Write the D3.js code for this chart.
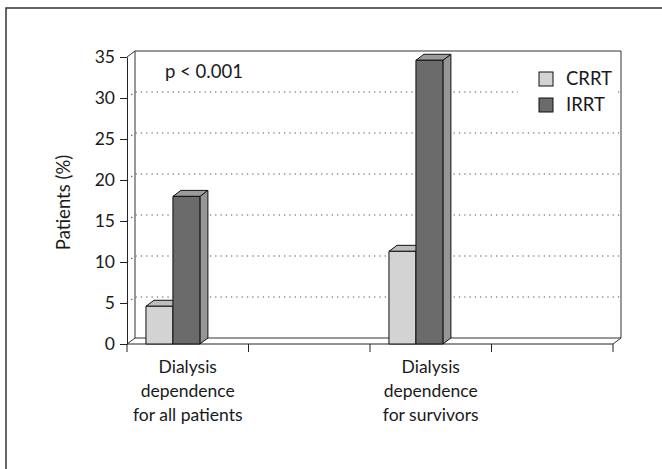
<!DOCTYPE html>
<html>
<head>
<meta charset="utf-8">
<script src="https://cdn.jsdelivr.net/npm/d3@7"></script>
<style>
  html, body { margin: 0; padding: 0; background: #fff; }
  text { font-family: Lato, "Noto Sans", sans-serif; fill: #1a1a1a; }
</style>
</head>
<body>
<svg id="chart" width="662" height="469"></svg>
<script>
// Données
const categories = ["all", "gap1", "surv", "gap2"];
const catLabels = [
  ["Dialysis", "dependence", "for all patients"],
  [],
  ["Dialysis", "dependence", "for survivors"],
  [],
];
const series = ["CRRT", "IRRT"];
const crrt = [4.6, null, 11.3, null];
const irrt = [18, null, 34.6, null];
const yTicks = [0, 5, 10, 15, 20, 25, 30, 35];

const colors = {
  CRRT: { front: "#d3d3d3", top: "#bdbdbd", side: "#a9a9a9" },
  IRRT: { front: "#6b6b6b", top: "#9b9b9b", side: "#969696" },
};

const svg = d3.select("#chart");

// cadre extérieur (coupé à droite et en bas)
svg.append("rect")
  .attr("x", 6).attr("y", 8)
  .attr("width", 700).attr("height", 500)
  .attr("fill", "none").attr("stroke", "#333").attr("stroke-width", 1.5);

const pLeft = 127, pRight = 613, pBottom = 344, pTop = 57;
const dx = 8, dy = -6; // profondeur 3D

const x = d3.scaleBand().domain(categories).range([pLeft, pRight]);
const y = d3.scaleLinear().domain([0, 35]).range([pBottom, pTop]);
const bw = x.bandwidth();
const xs = d3.scaleBand().domain(series).range([bw * 0.156, bw * 0.156 + bw * 0.444]);

// murs : fond + côté gauche
const wall = svg.append("g").attr("fill", "none").attr("stroke", "#333").attr("stroke-width", 1);
wall.append("path").attr("d",
  `M${pLeft + dx},${y(0) + dy}V${y(35) + dy}H${pRight + dx}V${y(0) + dy}`);
wall.append("path").attr("d", `M${pLeft},${y(35)}L${pLeft + dx},${y(35) + dy}`);
wall.append("path").attr("d", `M${pLeft},${y(0)}L${pLeft + dx},${y(0) + dy}`);
wall.append("path").attr("d", `M${pLeft + dx},${y(0) + dy}H${pRight + dx}`);
wall.append("path").attr("d", `M${pRight},${y(0)}L${pRight + dx},${y(0) + dy}`);

// quadrillage pointillé
svg.append("g").selectAll("path")
  .data(yTicks.filter(t => t > 0 && t < 35))
  .join("path")
  .attr("d", t => `M${pLeft},${y(t)}L${pLeft + dx},${y(t) + dy}H${pRight + dx}`)
  .attr("fill", "none")
  .attr("stroke", "#555")
  .attr("stroke-width", 1.2)
  .attr("stroke-dasharray", "1.3,4");

// axe Y
const yAxis = svg.append("g")
  .attr("transform", `translate(${pLeft},0)`)
  .call(d3.axisLeft(y).tickValues(yTicks).tickSize(7).tickPadding(5).tickSizeOuter(0));
yAxis.select(".domain").attr("stroke", "#222");
yAxis.selectAll(".tick line").attr("stroke", "#222");
yAxis.selectAll(".tick text")
  .attr("font-family", "Lato, 'Noto Sans', sans-serif")
  .attr("font-size", 17.5).attr("fill", "#1a1a1a");

// axe X (ligne avant + graduations aux bords des catégories)
svg.append("line")
  .attr("x1", pLeft).attr("x2", pRight)
  .attr("y1", y(0)).attr("y2", y(0))
  .attr("stroke", "#222");
svg.append("g").selectAll("line")
  .data(categories.map(c => x(c)).concat([pRight]))
  .join("line")
  .attr("x1", d => d).attr("x2", d => d)
  .attr("y1", y(0)).attr("y2", y(0) + 8)
  .attr("stroke", "#222");

// étiquettes de catégories
const lab = svg.append("g");
categories.forEach((c, i) => {
  const t = lab.append("text")
    .attr("x", x(c) + bw / 2)
    .attr("y", 373)
    .attr("text-anchor", "middle")
    .attr("font-size", 17.5);
  catLabels[i].forEach((line, j) => {
    t.append("tspan").attr("x", x(c) + bw / 2).attr("dy", j === 0 ? 0 : 24).text(line);
  });
});

// barres 3D
const bars = [];
categories.forEach((c, i) => {
  if (crrt[i] != null) bars.push({ cat: c, s: "CRRT", v: crrt[i] });
  if (irrt[i] != null) bars.push({ cat: c, s: "IRRT", v: irrt[i] });
});
const bw2 = xs.bandwidth();
const bg = svg.append("g").attr("stroke", "#111").attr("stroke-width", 1).attr("stroke-linejoin", "round");
bars.forEach(b => {
  const x0 = x(b.cat) + xs(b.s), x1 = x0 + bw2;
  const y0 = y(0), y1 = y(b.v);
  const g = bg.append("g");
  g.append("path")
    .attr("d", `M${x1},${y0}L${x1 + dx},${y0 + dy}V${y1 + dy}L${x1},${y1}Z`)
    .attr("fill", colors[b.s].side);
  g.append("path")
    .attr("d", `M${x0},${y1}L${x0 + dx},${y1 + dy}H${x1 + dx}L${x1},${y1}Z`)
    .attr("fill", colors[b.s].top);
  g.append("rect")
    .attr("x", x0).attr("y", y1)
    .attr("width", bw2).attr("height", y0 - y1)
    .attr("fill", colors[b.s].front);
});

// titre Y
svg.append("text")
  .attr("transform", `translate(63, ${(pTop + pBottom) / 2 + 2}) rotate(-90)`)
  .attr("text-anchor", "middle")
  .attr("dominant-baseline", "central")
  .attr("font-size", 18.5)
  .text("Patients (%)");

// annotation
svg.append("text")
  .attr("x", 165).attr("y", 78)
  .attr("font-size", 18.5)
  .text("p < 0.001");

// légende
const leg = svg.append("g");
leg.append("rect")
  .attr("x", 518).attr("y", 62).attr("width", 100).attr("height", 56)
  .attr("fill", "#fff");
series.forEach((s, i) => {
  leg.append("rect")
    .attr("x", 539).attr("y", 72 + i * 26)
    .attr("width", 14).attr("height", 14)
    .attr("fill", colors[s].front)
    .attr("stroke", "#111");
  leg.append("text")
    .attr("x", 566).attr("y", 85 + i * 26)
    .attr("font-size", 18.5)
    .text(s);
});
</script>
</body>
</html>
